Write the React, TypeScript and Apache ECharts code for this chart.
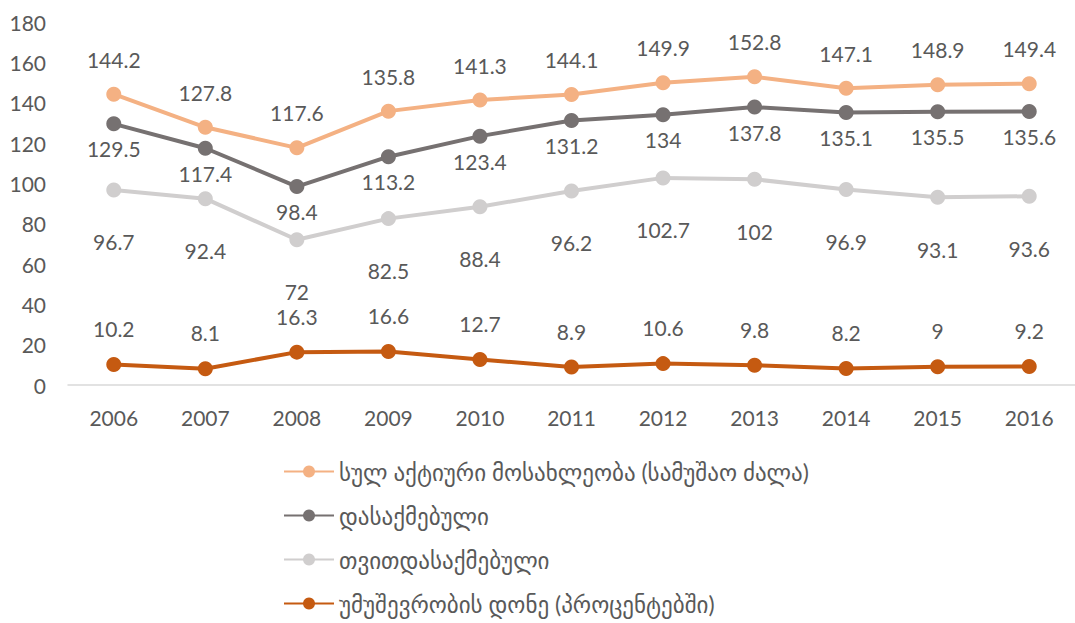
import React, { useEffect, useRef } from "react";
import * as echarts from "echarts";

const years = ["2006", "2007", "2008", "2009", "2010", "2011", "2012", "2013", "2014", "2015", "2016"];
const laborForce = [144.2, 127.8, 117.6, 135.8, 141.3, 144.1, 149.9, 152.8, 147.1, 148.9, 149.4];
const employed = [129.5, 117.4, 98.4, 113.2, 123.4, 131.2, 134, 137.8, 135.1, 135.5, 135.6];
const selfEmployed = [96.7, 92.4, 72, 82.5, 88.4, 96.2, 102.7, 102, 96.9, 93.1, 93.6];
const unemployment = [10.2, 8.1, 16.3, 16.6, 12.7, 8.9, 10.6, 9.8, 8.2, 9, 9.2];
const seriesNames = [
  "სულ აქტიური მოსახლეობა (სამუშაო ძალა)",
  "დასაქმებული",
  "თვითდასაქმებული",
  "უმუშევრობის დონე (პროცენტებში)",
];

const FONT = "Lato, 'DejaVu Sans', sans-serif";
const TEXT = "#595959";

export default function App() {
  const ref = useRef<HTMLDivElement>(null);
  useEffect(() => {
    const chart = echarts.init(ref.current!, null, { renderer: "svg" });
    const mk = (name: string, data: number[], color: string, pos: string, dist: number, z: number) => ({
      name,
      type: "line",
      data,
      z,
      symbol: "circle",
      symbolSize: 15,
      lineStyle: { color, width: 4 },
      itemStyle: { color },
      label: {
        show: true,
        position: pos,
        distance: dist,
        color: TEXT,
        fontSize: 21,
        fontFamily: FONT,
      },
    });
    chart.setOption({
      animation: false,
      textStyle: { fontFamily: FONT },
      grid: { left: 68, right: 0, top: 22, bottom: 238, containLabel: false },
      xAxis: {
        type: "category",
        data: years,
        axisLine: { show: true, lineStyle: { color: "#D9D9D9", width: 1.5 } },
        axisTick: { show: false },
        axisLabel: { color: TEXT, fontSize: 21, fontFamily: FONT, margin: 22 },
      },
      yAxis: {
        type: "value",
        min: 0,
        max: 180,
        interval: 20,
        axisLine: { show: false },
        axisTick: { show: false },
        splitLine: { show: false },
        axisLabel: { color: TEXT, fontSize: 21, fontFamily: FONT, margin: 22 },
      },
      legend: {
        orient: "vertical",
        left: 278,
        top: 455,
        itemWidth: 50,
        itemHeight: 15,
        itemGap: 21,
        textStyle: { color: TEXT, fontSize: 23, fontFamily: FONT },
        data: seriesNames,
      },
      series: [
        mk(seriesNames[0], laborForce, "#F4B183", "top", 17, 4),
        mk(seriesNames[1], employed, "#767171", "bottom", 7, 3),
        mk(seriesNames[2], selfEmployed, "#D0CECE", "bottom", 34, 2),
        mk(seriesNames[3], unemployment, "#C55A11", "top", 18, 5),
      ],
    });
    return () => chart.dispose();
  }, []);
  return (
    <div
      ref={ref}
      style={{ position: "fixed", left: 0, top: 0, width: 1075, height: 623, background: "#fff" }}
    />
  );
}
